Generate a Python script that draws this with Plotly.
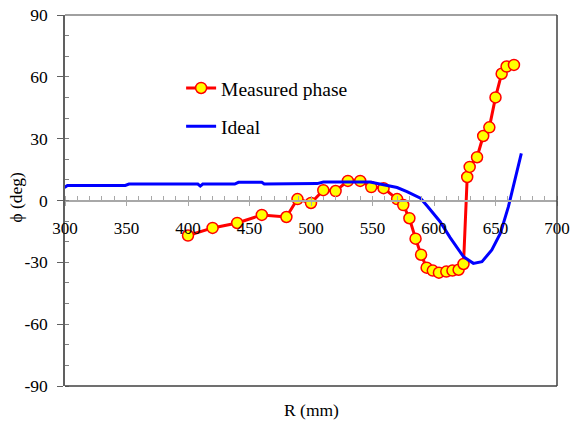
import plotly.graph_objects as go

meas_r = [400, 420, 440, 460, 480, 489, 500, 510, 520, 530, 540, 549, 559, 570, 575,
          580, 585, 589.5, 594, 599, 604, 610, 615, 620, 624, 627, 629, 635, 640, 645,
          650, 655, 659, 665]
meas_phi = [-17, -13.3, -10.9, -7, -8, 0.7, -1.2, 5, 4.6, 9.5, 9.5, 6.5, 6, 0.7, -2.2,
            -8.6, -18.5, -26.3, -32.6, -34, -35, -34.5, -34, -33.6, -30.8, 11.4, 16.3, 21, 31.3, 35.5,
            50, 61.5, 65, 65.8]

ideal_r = [295, 300, 302, 349, 352, 408, 410, 412, 438, 441, 460, 462, 505, 510, 548,
           561, 570, 578, 589, 595, 605, 613, 624, 632, 639, 647, 654, 660.5, 664.5, 671]
ideal_phi = [5.5, 6.5, 7.3, 7.3, 8.0, 8.0, 7.0, 8.0, 8.0, 8.8, 8.8, 8.0, 8.2, 9.0, 9.0,
             7.5, 6.3, 4.3, 1.1, -3, -10.3, -17.9, -27.3, -30.5, -29.7, -24, -15.9, -3, 6.7, 22.9]

x_ticks = [300, 350, 400, 450, 500, 550, 600, 650, 700]
y_ticks = [-90, -60, -30, 0, 30, 60, 90]

FONT = "Liberation Serif"

fig = go.Figure()
fig.add_trace(go.Scatter(
    x=meas_r, y=meas_phi, mode="lines+markers", name="Measured phase",
    line=dict(color="#FF0000", width=3),
    marker=dict(size=11, color="#FFFF00", line=dict(color="#FF0000", width=1.5)),
    legendgroup="a",
))
fig.add_trace(go.Scatter(
    x=ideal_r, y=ideal_phi, mode="lines", name="Ideal",
    line=dict(color="#0000FF", width=3),
    legendgroup="b",
))

fig.update_layout(
    width=571, height=430,
    margin=dict(l=65, r=14, t=15, b=44, autoexpand=False),
    paper_bgcolor="white", plot_bgcolor="white",
    font=dict(family=FONT, size=17, color="black"),
    showlegend=True,
    legend=dict(x=0.236, y=0.855, xanchor="left", yanchor="top",
                bgcolor="rgba(0,0,0,0)", font=dict(family=FONT, size=19.5),
                traceorder="grouped", tracegroupgap=10),
    xaxis=dict(
        range=[300, 700], tickvals=x_ticks, ticktext=[str(v) for v in x_ticks],
        anchor="free", position=0.5, automargin=False,
        showline=True, linecolor="#a8a8a8", linewidth=1.5,
        ticks="outside", ticklen=5, tickcolor="#a8a8a8", tickwidth=1,
        ticklabelstandoff=7,
        tickfont=dict(family=FONT, size=17),
        minor=dict(dtick=10, ticks="inside", ticklen=4, tickcolor="#a8a8a8"),
        showgrid=False, zeroline=False,
    ),
    yaxis=dict(
        range=[-90, 90], tickvals=y_ticks, ticktext=[str(v) for v in y_ticks],
        automargin=False,
        showline=True, linecolor="#606060", linewidth=1.5,
        ticks="outside", ticklen=6, tickcolor="#606060", tickwidth=1,
        ticklabelstandoff=6,
        tickfont=dict(family=FONT, size=17.5),
        minor=dict(dtick=10, ticks="inside", ticklen=4, tickcolor="#808080"),
        showgrid=False, zeroline=False,
    ),
    shapes=[
        dict(type="line", xref="paper", yref="paper", x0=0, x1=1, y0=1, y1=1,
             line=dict(color="#a0a0a0", width=2)),
        dict(type="line", xref="paper", yref="paper", x0=1, x1=1, y0=0, y1=1,
             line=dict(color="#404040", width=1.5)),
        dict(type="line", xref="paper", yref="paper", x0=0, x1=1, y0=0, y1=0,
             line=dict(color="#404040", width=1.5)),
    ],
    annotations=[
        dict(text="R (mm)", xref="paper", yref="paper", x=0.5, y=-0.065,
             showarrow=False, xanchor="center", yanchor="middle",
             font=dict(family=FONT, size=17.5)),
        dict(text="\u03d5 (deg)", xref="paper", yref="paper", x=-0.1, y=0.51,
             showarrow=False, xanchor="center", yanchor="middle", textangle=-90,
             font=dict(family=FONT, size=17.5)),
    ],
)

fig.write_html("out.html")
